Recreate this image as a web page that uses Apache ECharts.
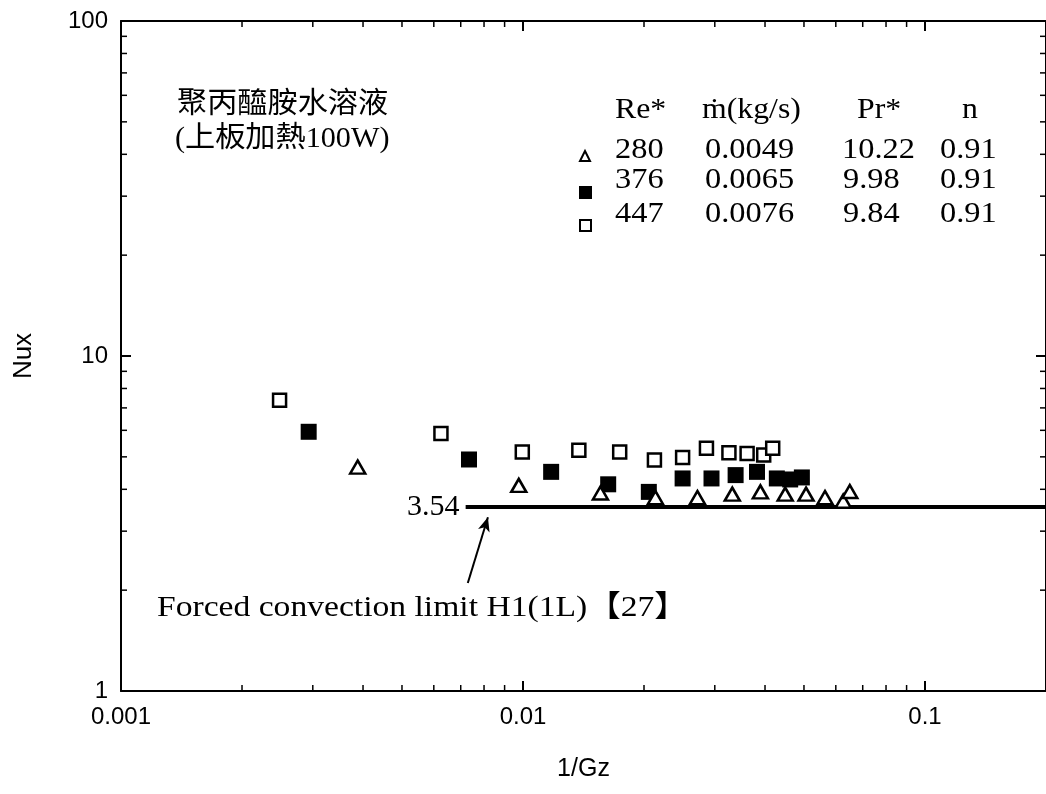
<!DOCTYPE html>
<html>
<head>
<meta charset="utf-8">
<script src="https://cdn.jsdelivr.net/npm/echarts@6/dist/echarts.min.js"></script>
<style>
html,body{margin:0;padding:0;background:#fff;}
#chart{width:1046px;height:794px;}
</style>
</head>
<body>
<div id="chart"></div>
<script>
// ---- data ----
const re280X = [0.00388, 0.00976, 0.01558, 0.02135, 0.02716, 0.03316, 0.03895, 0.0449, 0.0506, 0.0564, 0.0626, 0.065];
const re280Y = [4.66, 4.11, 3.90, 3.78, 3.78, 3.87, 3.93, 3.87, 3.87, 3.78, 3.69, 3.94];
const re376X = [0.00293, 0.00734, 0.01175, 0.01629, 0.02056, 0.02495, 0.02944, 0.0338, 0.0382, 0.0428, 0.0462, 0.0494];
const re376Y = [5.94, 4.91, 4.51, 4.14, 3.93, 4.31, 4.31, 4.41, 4.51, 4.31, 4.28, 4.34];
const re447X = [0.00248, 0.00625, 0.00996, 0.01377, 0.0174, 0.02123, 0.02495, 0.0286, 0.03253, 0.0361, 0.0397, 0.0418];
const re447Y = [7.38, 5.87, 5.17, 5.23, 5.17, 4.89, 4.98, 5.30, 5.14, 5.12, 5.06, 5.30];
const limitValue = 3.54;
const limitX = [0.0072, 0.2];
const arrowFrom = [0.00729, 2.10];
const arrowTo = [0.00818, 3.30];
const xTickLabels = {'-3': '0.001', '-2': '0.01', '-1': '0.1'};
const yTickLabels = {'0': '1', '1': '10', '2': '100'};
const legendHeader = ['Re*', 'ṁ(kg/s)', 'Pr*', 'n'];
const legendRows = [
  ['280', '0.0049', '10.22', '0.91'],
  ['376', '0.0065', '9.98', '0.91'],
  ['447', '0.0076', '9.84', '0.91']
];
const titleLines = ['聚丙醯胺水溶液', '(上板加熱100W)'];
const noteText = 'Forced convection limit H1(1L)【27】';
const minorMult = [2, 3, 4, 5, 6, 7, 8, 9];
const xDecades = [-3, -2, -1];
const yDecades = [0, 1];

// ---- build ----
const zip = (a, b) => a.map((v, i) => [v, b[i]]);
const X_MIN = 0.001, X_MAX = 0.2, Y_MIN = 1, Y_MAX = 100;
const xMinor = [];
xDecades.forEach(d => minorMult.forEach(m => { const v = m * Math.pow(10, d); if (v < X_MAX) xMinor.push([v, Y_MIN]); }));
const yMinor = [];
yDecades.forEach(d => minorMult.forEach(m => { yMinor.push([X_MIN, m * Math.pow(10, d)]); }));

const serif = '"Liberation Serif", "Noto Sans CJK TC", serif';
const sans = '"Liberation Sans", Arial, sans-serif';

function fmt(map) {
  return function (v) {
    const l = Math.log10(v), e = Math.round(l);
    return Math.abs(l - e) < 1e-6 && map[String(e)] !== undefined ? map[String(e)] : '';
  };
}

const axisLine = {show: true, lineStyle: {color: '#000', width: 2}};
const majorTick = {show: true, inside: true, length: 10, lineStyle: {color: '#000', width: 2}};

function minorRender(isX) {
  return function (params, api) {
    const cs = params.coordSys;
    const p = api.coord([api.value(0), api.value(1)]);
    const L = 6;
    const st = {stroke: '#000', lineWidth: 1.5};
    if (isX) {
      return {type: 'group', children: [
        {type: 'line', shape: {x1: p[0], y1: cs.y + cs.height, x2: p[0], y2: cs.y + cs.height - L}, style: st},
        {type: 'line', shape: {x1: p[0], y1: cs.y, x2: p[0], y2: cs.y + L}, style: st}
      ]};
    }
    return {type: 'group', children: [
      {type: 'line', shape: {x1: cs.x, y1: p[1], x2: cs.x + L, y2: p[1]}, style: st},
      {type: 'line', shape: {x1: cs.x + cs.width, y1: p[1], x2: cs.x + cs.width - L, y2: p[1]}, style: st}
    ]};
  };
}

// legend / annotation graphics
const graphics = [];
titleLines.forEach((t, i) => {
  graphics.push({type: 'text', x: i === 0 ? 177 : 175, y: i === 0 ? 105 : 139, scaleX: 1.04,
    style: {text: t, fontSize: 29, fontFamily: serif, fill: '#000', textAlign: 'left', textVerticalAlign: 'middle'}});
});
const colX = [[615, 702, 857, 962], [615, 705, 842, 940]];
const rowY = [150, 180, 214];
legendHeader.forEach((t, j) => {
  graphics.push({type: 'text', x: colX[0][j], y: 110, scaleX: 1.06,
    style: {text: t, fontSize: 30, fontFamily: serif, fill: '#000', textAlign: 'left', textVerticalAlign: 'middle'}});
});
legendRows.forEach((row, i) => {
  row.forEach((t, j) => {
    graphics.push({type: 'text', x: colX[1][j] + (j === 2 && i > 0 ? 1 : 0), y: rowY[i], scaleX: 1.08,
      style: {text: t, fontSize: 30, fontFamily: serif, fill: '#000', textAlign: 'left', textVerticalAlign: 'middle'}});
  });
});
// legend markers
graphics.push({type: 'polygon', shape: {points: [[585, 151], [590, 161], [580, 161]]},
  style: {fill: '#fff', stroke: '#000', lineWidth: 2}});
graphics.push({type: 'rect', shape: {x: 579, y: 186, width: 13, height: 13}, style: {fill: '#000'}});
graphics.push({type: 'rect', shape: {x: 580, y: 220, width: 11, height: 11},
  style: {fill: '#fff', stroke: '#000', lineWidth: 2}});
graphics.push({type: 'text', x: 157, y: 608, scaleX: 1.12,
  style: {text: noteText, fontSize: 30, fontFamily: serif, fill: '#000', textAlign: 'left', textVerticalAlign: 'middle'}});

const chart = echarts.init(document.getElementById('chart'), null, {renderer: 'canvas'});
chart.setOption({
  animation: false,
  backgroundColor: '#fff',
  grid: {left: 121, top: 21, width: 930, height: 670, containLabel: false},
  xAxis: [
    {type: 'log', logBase: 10, min: X_MIN, max: X_MAX, position: 'bottom',
     axisLine: axisLine, axisTick: majorTick, splitLine: {show: false}, minorTick: {show: false},
     axisLabel: {formatter: fmt(xTickLabels), fontSize: 24, fontFamily: sans, color: '#000', margin: 14, showMaxLabel: false},
     name: '1/Gz', nameLocation: 'middle', nameGap: 66,
     nameTextStyle: {fontSize: 25, fontFamily: sans, color: '#000'}},
    {type: 'log', logBase: 10, min: X_MIN, max: X_MAX, position: 'top',
     axisLine: axisLine, axisTick: majorTick, splitLine: {show: false}, axisLabel: {show: false}}
  ],
  yAxis: [
    {type: 'log', logBase: 10, min: Y_MIN, max: Y_MAX, position: 'left',
     axisLine: axisLine, axisTick: majorTick, splitLine: {show: false},
     axisLabel: {formatter: fmt(yTickLabels), fontSize: 24, fontFamily: sans, color: '#000', margin: 13},
     name: 'Nux', nameLocation: 'middle', nameGap: 84, nameRotate: 90,
     nameTextStyle: {fontSize: 26, fontFamily: sans, color: '#000'}},
    {type: 'log', logBase: 10, min: Y_MIN, max: Y_MAX, position: 'right',
     axisLine: axisLine, axisTick: majorTick, splitLine: {show: false}, axisLabel: {show: false}}
  ],
  series: [
    {type: 'custom', name: 'xminor', xAxisIndex: 0, yAxisIndex: 0, silent: true, data: xMinor, renderItem: minorRender(true), z: 1},
    {type: 'custom', name: 'yminor', xAxisIndex: 0, yAxisIndex: 0, silent: true, data: yMinor, renderItem: minorRender(false), z: 1},
    {type: 'line', name: 'limit', xAxisIndex: 0, yAxisIndex: 0, silent: true,
     data: [
       {value: [limitX[0], limitValue], label: {show: true, position: 'left', distance: 6, formatter: String(limitValue),
         fontSize: 30, fontFamily: serif, color: '#000'}},
       {value: [limitX[1], limitValue]}
     ],
     symbol: 'circle', symbolSize: 0.1, showSymbol: true, itemStyle: {color: '#000'},
     lineStyle: {color: '#000', width: 4}, z: 2,
     markLine: {silent: true, symbol: ['none', 'arrow'], symbolSize: [9, 14], label: {show: false},
       lineStyle: {color: '#000', width: 2, type: 'solid'},
       data: [[{coord: arrowFrom}, {coord: arrowTo}]]}},
    {type: 'scatter', name: '376', data: zip(re376X, re376Y), symbol: 'rect', symbolSize: 16,
     itemStyle: {color: '#000', opacity: 1}, z: 3},
    {type: 'scatter', name: '447', data: zip(re447X, re447Y), symbol: 'rect', symbolSize: 13,
     itemStyle: {color: '#fff', borderColor: '#000', borderWidth: 2.5, opacity: 1}, z: 4},
    {type: 'scatter', name: '280', data: zip(re280X, re280Y), symbol: 'triangle', symbolSize: [15, 13],
     itemStyle: {color: '#fff', borderColor: '#000', borderWidth: 2.5, opacity: 1}, z: 5}
  ],
  graphic: graphics
});
</script>
</body>
</html>
